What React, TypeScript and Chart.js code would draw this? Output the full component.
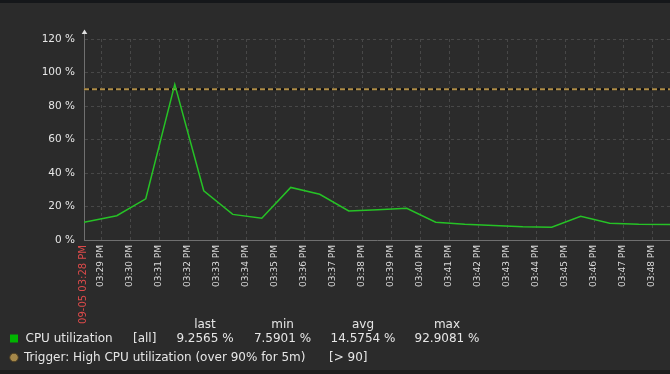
import { useEffect, useRef } from "react";
import { Chart, registerables } from "chart.js";

Chart.register(...registerables);

// X axis: minutes after 09-05 03:28 PM
const tickMinutes = [0.4, 1, 2, 3, 4, 5, 6, 7, 8, 9, 10, 11, 12, 13, 14, 15, 16, 17, 18, 19, 20];
const tickLabels = [
  "09-05 03:28 PM", "03:29 PM", "03:30 PM", "03:31 PM", "03:32 PM", "03:33 PM", "03:34 PM",
  "03:35 PM", "03:36 PM", "03:37 PM", "03:38 PM", "03:39 PM", "03:40 PM", "03:41 PM",
  "03:42 PM", "03:43 PM", "03:44 PM", "03:45 PM", "03:46 PM", "03:47 PM", "03:48 PM",
];
const axisStartMinute = 0.4;
const axisEndMinute = 20.61;

const sampleMinutes = [
  0.4, 1.53, 2.53, 3.53, 4.53, 5.53, 6.53, 7.53, 8.53, 9.53, 10.53, 11.53, 12.53, 13.53,
  14.53, 15.53, 16.53, 17.53, 18.53, 19.53, 20.61,
];
const cpuValues = [
  10.6, 14.5, 24.6, 92.9081, 29.4, 15.3, 13.0, 31.4, 27.3, 17.3, 18.1, 18.9, 10.6, 9.4,
  8.6, 7.9, 7.5901, 14.1, 10.0, 9.4, 9.2565,
];
const triggerThreshold = 90;

const yMin = 0;
const yMax = 120;
const yStep = 20;

const legendHeaders = ["last", "min", "avg", "max"];
const cpuStats = ["9.2565 %", "7.5901 %", "14.5754 %", "92.9081 %"];
const seriesName = "CPU utilization";
const seriesScope = "[all]";
const triggerName = "Trigger: High CPU utilization (over 90% for 5m)";
const triggerCondition = "[> 90]";

const FONT = "'DejaVu Sans', 'Noto Sans', sans-serif";
const BG = "#2b2b2b";
const TEXT = "#e6e6e6";
const GREEN = "#26c226";
const TAN = "#b08e48";
const RED = "#dc4a4a";
const GRID = "#484848";
const AXIS = "#707070";

const backgroundPlugin = {
  id: "bgPlugin",
  beforeDraw(chart: any) {
    const { ctx, width, height } = chart;
    ctx.save();
    ctx.fillStyle = BG;
    ctx.fillRect(0, 0, width, height);
    ctx.fillStyle = "#15171a";
    ctx.fillRect(0, 0, width, 3);
    ctx.fillStyle = "#1e1e1e";
    ctx.fillRect(0, 370, width, height - 370);
    ctx.restore();
  },
};

const overlayPlugin = {
  id: "overlayPlugin",
  afterDraw(chart: any) {
    const { ctx, chartArea } = chart;
    const xs = chart.scales.x;
    ctx.save();

    // y-axis arrow
    const ax = Math.round(chartArea.left) + 0.5;
    ctx.strokeStyle = AXIS;
    ctx.lineWidth = 1;
    ctx.beginPath();
    ctx.moveTo(ax, 33);
    ctx.lineTo(ax, chartArea.top);
    ctx.stroke();
    ctx.fillStyle = "#e0e0e0";
    ctx.beginPath();
    ctx.moveTo(ax, 29.5);
    ctx.lineTo(ax - 2.8, 34);
    ctx.lineTo(ax + 2.8, 34);
    ctx.closePath();
    ctx.fill();

    // x tick labels (rotated)
    ctx.textAlign = "right";
    ctx.textBaseline = "middle";
    tickMinutes.forEach((m, i) => {
      const px = xs.getPixelForValue(m);
      ctx.save();
      ctx.translate(i === 0 ? px - 0.5 : px - 1, chartArea.bottom + 5);
      ctx.rotate(-Math.PI / 2);
      ctx.font = i === 0 ? `10px ${FONT}` : `9px ${FONT}`;
      ctx.fillStyle = i === 0 ? RED : "#dcdcdc";
      ctx.fillText(tickLabels[i], 0, 0);
      ctx.restore();
    });

    // legend
    const colCenters = [205, 282.5, 363, 447];
    ctx.font = `12px ${FONT}`;
    ctx.fillStyle = TEXT;
    ctx.textBaseline = "middle";
    ctx.textAlign = "center";
    legendHeaders.forEach((h, i) => ctx.fillText(h, colCenters[i], 325));
    cpuStats.forEach((s, i) => ctx.fillText(s, colCenters[i], 339));
    ctx.textAlign = "left";
    ctx.fillText(seriesName, 25.5, 339);
    ctx.fillText(seriesScope, 133, 339);
    ctx.fillText(triggerName, 24, 357.5);
    ctx.fillText(triggerCondition, 329, 357.5);

    ctx.fillStyle = "#00b400";
    ctx.fillRect(10, 334.5, 8, 8);

    ctx.beginPath();
    ctx.arc(14, 357.5, 4.3, 0, Math.PI * 2);
    ctx.fillStyle = "#a6884a";
    ctx.fill();
    ctx.strokeStyle = "#4a3c22";
    ctx.lineWidth = 1;
    ctx.stroke();

    ctx.restore();
  },
};

export default function App() {
  const canvasRef = useRef<HTMLCanvasElement | null>(null);

  useEffect(() => {
    const canvas = canvasRef.current;
    if (!canvas) return;
    const cpuPoints = sampleMinutes.map((m, i) => ({ x: m, y: cpuValues[i] }));
    const triggerPoints = [
      { x: axisStartMinute, y: triggerThreshold },
      { x: axisEndMinute, y: triggerThreshold },
    ];
    const chart = new Chart(canvas, {
      type: "line",
      data: {
        datasets: [
          {
            label: seriesName,
            data: cpuPoints,
            borderColor: GREEN,
            borderWidth: 1.5,
            pointRadius: 0,
            tension: 0,
            fill: false,
            order: 0,
          },
          {
            label: "trigger",
            data: triggerPoints,
            borderColor: TAN,
            borderWidth: 2,
            borderDash: [5, 3],
            pointRadius: 0,
            fill: false,
            order: 1,
          },
          {
            label: "trigger-bg",
            data: triggerPoints,
            borderColor: "#111111",
            borderWidth: 2,
            pointRadius: 0,
            fill: false,
            order: 2,
          },
        ],
      },
      options: {
        animation: false,
        responsive: false,
        devicePixelRatio: 1,
        layout: { padding: { top: 39, left: 0, right: 0, bottom: 0 } },
        plugins: {
          legend: { display: false },
          tooltip: { enabled: false },
          title: { display: false },
        },
        scales: {
          x: {
            type: "linear",
            min: axisStartMinute,
            max: axisEndMinute,
            afterBuildTicks: (scale: any) => {
              scale.ticks = tickMinutes.map((v) => ({ value: v }));
            },
            afterFit: (scale: any) => {
              scale.height = 134;
            },
            ticks: { display: false },
            grid: {
              drawTicks: false,
              color: (c: any) => (c.index === 0 ? "rgba(0,0,0,0)" : GRID),
              lineWidth: 1,
            },
            border: { display: true, color: AXIS, width: 1, dash: [3, 3] },
          },
          y: {
            type: "linear",
            min: yMin,
            max: yMax,
            afterFit: (scale: any) => {
              scale.width = 84;
            },
            ticks: {
              stepSize: yStep,
              padding: 9,
              color: TEXT,
              font: { family: FONT, size: 10.5 },
              callback: (v: any) => `${v} %`,
            },
            grid: {
              drawTicks: false,
              color: GRID,
              lineWidth: 1,
            },
            border: { display: true, color: AXIS, width: 1, dash: [3, 3] },
          },
        },
      },
      plugins: [backgroundPlugin, overlayPlugin],
    } as any);
    return () => chart.destroy();
  }, []);

  return (
    <div style={{ position: "fixed", left: 0, top: 0, width: 670, height: 374, margin: 0 }}>
      <canvas ref={canvasRef} width={670} height={374} style={{ display: "block" }} />
    </div>
  );
}
